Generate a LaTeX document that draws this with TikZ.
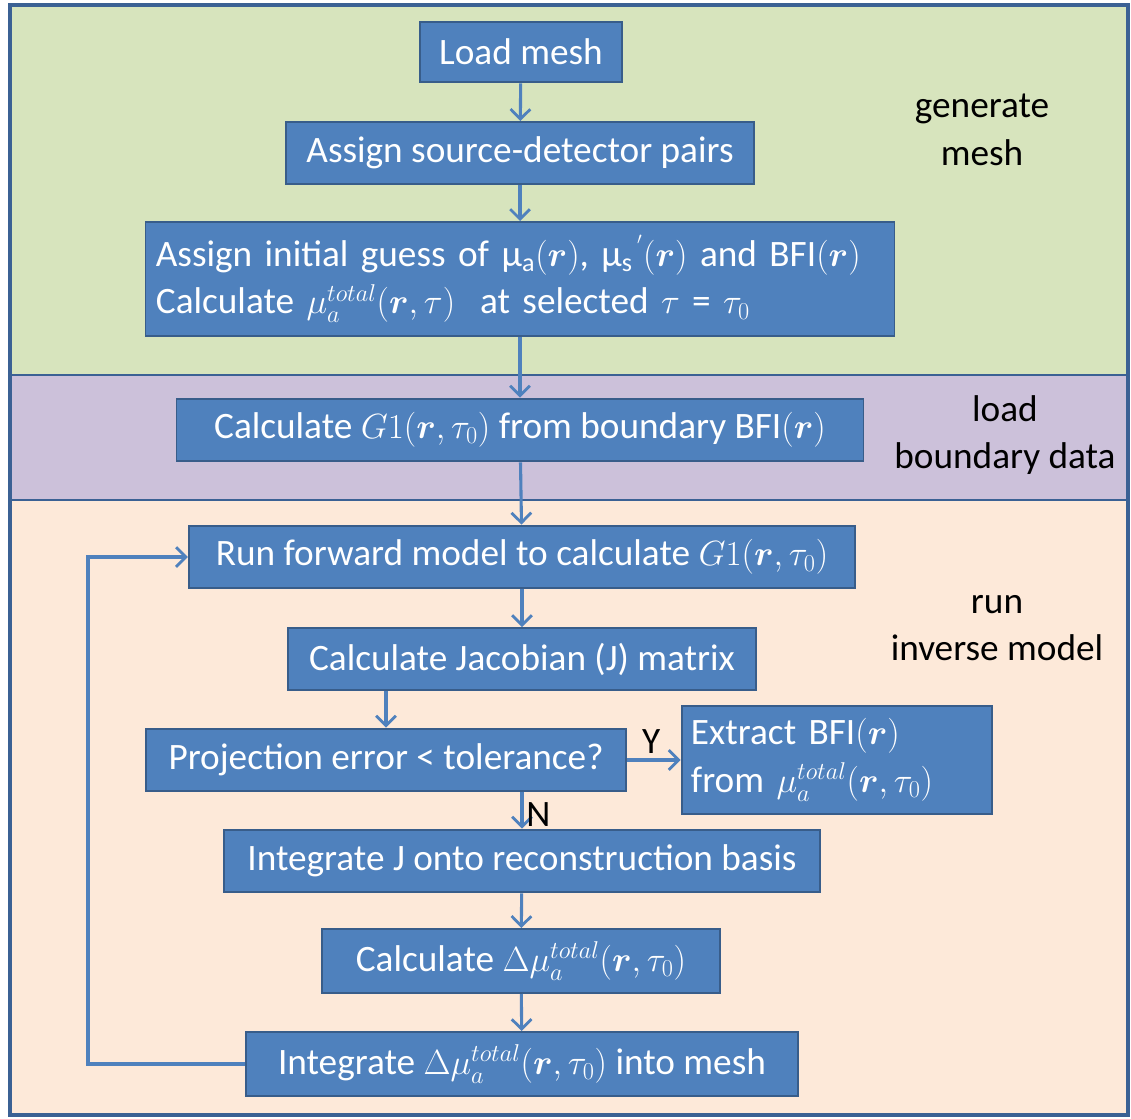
\documentclass[tikz,border=0pt]{standalone}
\usepackage{fontspec}
\setmainfont{Carlito}
\usepackage{bm}
\usetikzlibrary{arrows.meta,positioning}
\definecolor{boxfill}{HTML}{4F81BD}
\definecolor{boxedge}{HTML}{385D8A}
\definecolor{frame}{HTML}{3B6194}
\definecolor{meshbg}{HTML}{D7E4BD}
\definecolor{databg}{HTML}{CCC1DA}
\definecolor{invbg}{HTML}{FDE9D9}
\tikzset{
  stepbox/.style={draw=boxedge, fill=boxfill, line width=1.4pt, text=white,
                  font=\fontsize{26.5}{34}\selectfont, inner sep=4pt, align=center},
  ar/.style={-{Straight Barb[length=7pt,width=14pt,line width=2pt]}, line width=2.2pt, draw=boxfill},
  side/.style={font=\fontsize{26.5}{34}\selectfont, align=center, text=black}
}
\newcommand{\mutot}{\mu_a^{total}}
\begin{document}
\begin{tikzpicture}[x=0.025cm,y=-0.025cm]
  \useasboundingbox (0,0) rectangle (1131,1118);
  % bands
  \fill[meshbg] (10,5) rectangle (1128,375);
  \fill[databg] (10,375) rectangle (1128,500);
  \fill[invbg] (10,500) rectangle (1128,1115);
  \draw[frame, line width=2pt] (10,375) -- (1128,375) (10,500) -- (1128,500);
  \draw[frame, line width=3pt] (10,5) rectangle (1128,1115);

  % generate mesh
  \node[stepbox, minimum width=5.05cm, minimum height=1.52cm] (load) at (521,52) {Load mesh};
  \node[stepbox, minimum width=11.72cm, minimum height=1.55cm] (assign) at (520,153) {Assign source-detector pairs};
  \node[stepbox, minimum width=18.72cm, minimum height=2.85cm, text width=18.2cm, align=left] (guess) at (520,279)
    {Assign initial guess of μ\textsubscript{a}$(\bm{r})$, μ\textsubscript{s}\textsuperscript{\,$'$}$(\bm{r})$ and BFI$(\bm{r})$\\
     Calculate $\mutot(\bm{r},\tau)$\ \ at selected $\tau$ = $\tau_0$};
  \node[side] (genlbl) at (982,130) {generate\\mesh};

  % load boundary data
  \node[stepbox, minimum width=17.17cm, minimum height=1.57cm] (calcg) at (520,430)
    {Calculate $G1(\bm{r},\tau_0)$ from boundary BFI$(\bm{r})$};
  \node[side] (datalbl) at (1005,435) {load\\boundary data};

  % run inverse model
  \node[stepbox, minimum width=16.65cm, minimum height=1.57cm] (forward) at (522,557)
    {Run forward model to calculate $G1(\bm{r},\tau_0)$};
  \node[stepbox, minimum width=11.72cm, minimum height=1.55cm] (jacob) at (522,659)
    {Calculate Jacobian (J) matrix};
  \node[stepbox, minimum width=12cm, minimum height=1.57cm] (proj) at (386,760)
    {Projection error < tolerance?};
  \node[stepbox, minimum width=7.77cm, minimum height=2.72cm, text width=7.3cm, align=left] (extract) at (837,760)
    {Extract BFI$(\bm{r})$\\from $\mutot(\bm{r},\tau_0)$};
  \node[stepbox, minimum width=14.9cm, minimum height=1.57cm] (integj) at (522,861)
    {Integrate J onto reconstruction basis};
  \node[stepbox, minimum width=9.95cm, minimum height=1.6cm] (delta) at (521,961)
    {Calculate $\Delta\mutot(\bm{r},\tau_0)$};
  \node[stepbox, minimum width=13.8cm, minimum height=1.6cm] (integm) at (522,1064)
    {Integrate $\Delta\mutot(\bm{r},\tau_0)$ into mesh};
  \node[side] (invlbl) at (997,628) {run\\inverse model};

  \draw[ar] (load) -- (assign);
  \draw[ar] (assign) -- (guess);
  \draw[ar] (guess) -- (calcg);
  \draw[ar] (calcg) -- (forward);
  \draw[ar] (forward) -- (jacob);
  \draw[ar] (jacob.south -| proj.north) -- (proj.north);
  \draw[ar] (proj) -- node[side, above, pos=0.45] {Y} (extract);
  \draw[ar] (proj.south -| integj.north) -- node[side, right, inner sep=2pt, pos=0.6] {N} (integj.north);
  \draw[ar] (integj) -- (delta);
  \draw[ar] (delta) -- (integm);
  \coordinate (loopc) at (88,1064);
  \draw[ar] (integm.west) -- (loopc) |- (forward.west);
\end{tikzpicture}
\end{document}
